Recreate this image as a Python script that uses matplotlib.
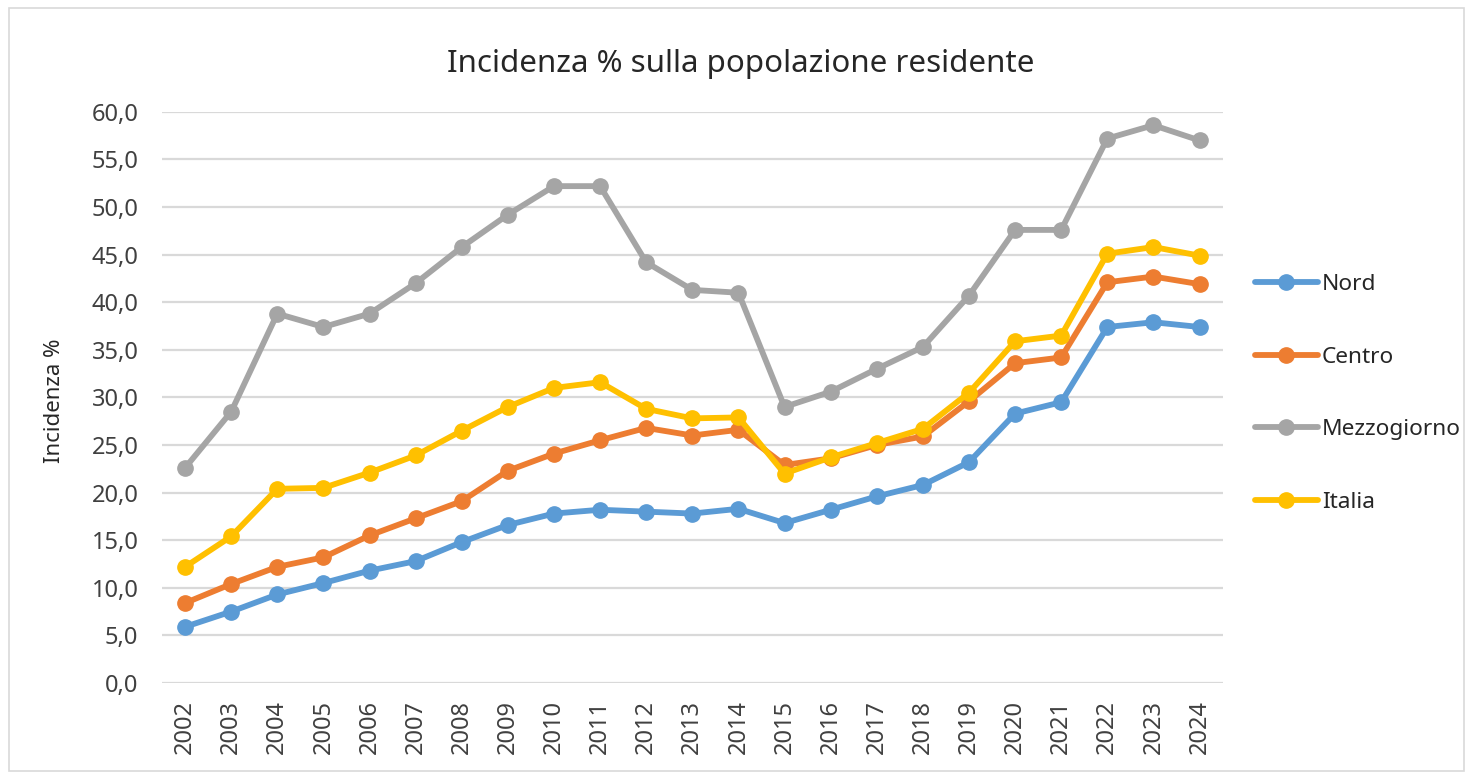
import numpy as np
import matplotlib.pyplot as plt
from matplotlib.patches import Rectangle

plt.rcParams['font.family'] = ['Noto Sans', 'DejaVu Sans']

years = [str(y) for y in range(2002, 2025)]
nord = [5.9, 7.5, 9.3, 10.5, 11.8, 12.8, 14.8, 16.6, 17.8, 18.2, 18.0, 17.8,
        18.3, 16.8, 18.2, 19.6, 20.8, 23.2, 28.3, 29.5, 37.4, 37.9, 37.4]
centro = [8.4, 10.4, 12.2, 13.2, 15.5, 17.3, 19.1, 22.3, 24.1, 25.5, 26.8, 26.0,
          26.6, 22.9, 23.6, 25.0, 25.9, 29.6, 33.6, 34.2, 42.1, 42.7, 41.9]
mezzogiorno = [22.6, 28.5, 38.8, 37.4, 38.8, 42.0, 45.8, 49.2, 52.2, 52.2, 44.2, 41.3,
               41.0, 29.0, 30.6, 33.0, 35.3, 40.7, 47.6, 47.6, 57.2, 58.6, 57.0]
italia = [12.2, 15.4, 20.4, 20.5, 22.1, 23.9, 26.5, 29.0, 31.0, 31.6, 28.8, 27.8,
          27.9, 22.0, 23.7, 25.2, 26.7, 30.5, 35.9, 36.5, 45.1, 45.8, 44.9]

series = [('Nord', nord, '#5B9BD5'),
          ('Centro', centro, '#ED7D31'),
          ('Mezzogiorno', mezzogiorno, '#A5A5A5'),
          ('Italia', italia, '#FFC000')]

fig = plt.figure(figsize=(14.73, 7.77), dpi=100)
fig.patches.append(Rectangle((0.006, 0.008), 0.988, 0.982, transform=fig.transFigure,
                             fill=False, edgecolor='#D9D9D9', lw=1.2))
ax = fig.add_axes([0.110, 0.121, 0.720, 0.735])

x = np.arange(len(years))
for name, vals, col in series:
    ax.plot(x, vals, '-o', color=col, lw=4.2, ms=11, label=name,
            solid_joinstyle='round', solid_capstyle='round')

ax.set_xlim(-0.5, len(years) - 0.5)
ax.set_ylim(0, 60)
ax.set_yticks(np.arange(0, 61, 5))
ax.set_yticklabels([f'{v:.1f}'.replace('.', ',') for v in np.arange(0, 61, 5)])
ax.set_xticks(x)
ax.set_xticklabels(years, rotation=90)
ax.grid(axis='y', color='#D9D9D9', lw=1.6)
ax.set_axisbelow(True)
for s in ax.spines.values():
    s.set_visible(False)
ax.tick_params(length=0, labelsize=17, colors='#404040')
ax.tick_params(axis='y', pad=17)
ax.tick_params(axis='x', pad=12)

fig.text(0.0367, 0.484, 'Incidenza %', rotation=90, ha='center', va='center',
         fontsize=16, color='#262626')
fig.text(0.503, 0.918, 'Incidenza % sulla popolazione residente', ha='center',
         va='center', fontsize=22.5, color='#262626')

leg = ax.legend(loc='center left', bbox_to_anchor=(1.011, 0.507), frameon=False,
                fontsize=16.3, labelspacing=2.29, handlelength=2.8, handletextpad=0.17,
                labelcolor='#262626')

fig.savefig('out.png', dpi=100)
